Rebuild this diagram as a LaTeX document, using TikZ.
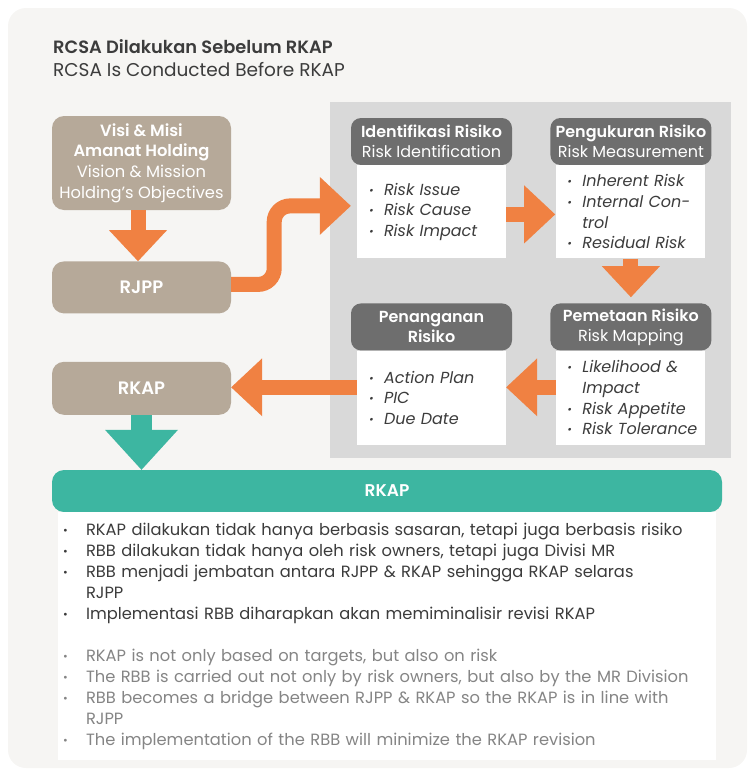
\documentclass[tikz,border=0pt]{standalone}
\usepackage{fontspec}
\usepackage{graphicx}
\setmainfont{Poppins}[BoldFont={Poppins SemiBold}]
\usetikzlibrary{positioning, arrows.meta}
\definecolor{panelbg}{HTML}{F6F5F3}
\definecolor{tanbox}{HTML}{B6A999}
\definecolor{orangearr}{HTML}{F08142}
\definecolor{riskgray}{HTML}{D9D9D9}
\definecolor{hdrgray}{HTML}{6E6E6E}
\definecolor{tealbar}{HTML}{3DB6A1}
\definecolor{titletext}{HTML}{3C3C3C}
\definecolor{engtext}{HTML}{858585}
\newcommand{\dotmark}{\raisebox{1pt}{\scalebox{0.7}{\textbullet}}}
\newcommand{\bul}[1][11pt]{\hspace*{#1}\makebox[15pt][l]{\dotmark}}
\newcommand{\nbul}{\makebox[23pt][l]{\dotmark}}
\tikzset{
	heading/.style={
		anchor=base west,
		inner sep=0pt,
		text=titletext,
		font=\fontsize{18.5}{22}\selectfont,
	},
	plan/.style={
		rectangle,
		fill=tanbox,
		rounded corners=12pt,
		minimum width=179pt,
		minimum height=52pt,
		text=white,
		align=center,
		font=\fontsize{16.3}{20.7}\selectfont,
	},
	hdr/.style={
		rectangle,
		fill=hdrgray,
		rounded corners=10pt,
		minimum width=161pt,
		minimum height=47pt,
		inner sep=0pt,
		text=white,
		align=center,
		font=\fontsize{16}{20}\selectfont,
	},
	items/.style={
		rectangle,
		fill=white,
		minimum width=149pt,
		minimum height=93pt,
		inner sep=0pt,
		text width=149pt,
		align=left,
		text=titletext,
		font=\fontsize{16}{20.7}\selectfont\itshape,
	},
	flow/.style={
		draw=orangearr,
		line width=15pt,
		-{Triangle[width=58pt, length=31pt, line width=0pt]},
	},
	tealflow/.style={
		draw=tealbar,
		line width=21pt,
		-{Triangle[width=73pt, length=40pt, line width=0pt]},
	},
}

\begin{document}
\begin{tikzpicture}[x=1pt, y=-1pt]
	\useasboundingbox (0,0) rectangle (747,771);
	\fill[panelbg, rounded corners=18pt] (8,8) rectangle (747,768);

	% title
	\node[heading, font=\fontsize{17.8}{22}\selectfont\bfseries] (ttl) at (53,53) {RCSA Dilakukan Sebelum RKAP};
	\node[heading] (subttl) at (53,76) {RCSA Is Conducted Before RKAP};

	% left column
	\node[plan, minimum height=94pt] (visi) at (141.5,163) {\textbf{Visi \& Misi}\\\textbf{Amanat Holding}\\Vision \& Mission\\Holding’s Objectives};
	\node[plan, below=51pt of visi, font=\fontsize{18}{20}\selectfont\bfseries] (rjpp) {RJPP};
	\node[plan, below=48pt of rjpp, minimum height=53pt, font=\fontsize{18}{20}\selectfont\bfseries] (rkap) {RKAP};

	% risk process
	\fill[riskgray] (330,102) rectangle (731,458);
	\node[hdr] (hid) at (431.5,141.5) {\textbf{Identifikasi Risiko}\\Risk Identification};
	\node[items, below=0pt of hid] (wid) {\bul[12pt]Risk Issue\\\bul[12pt]Risk Cause\\\bul[12pt]Risk Impact};
	\node[hdr, right=38pt of hid] (hmeas) {\textbf{Pengukuran Risiko}\\Risk Measurement};
	\node[items, below=0pt of hmeas] (wmeas) {\bul Inherent Risk\\\bul Internal Con-\\\hspace*{26pt}trol\\\bul Residual Risk};
	\node[hdr, below=138pt of hmeas] (hmap) {\textbf{Pemetaan Risiko}\\Risk Mapping};
	\node[items, below=0pt of hmap, minimum height=94pt] (wmap) {\bul Likelihood \&\\\hspace*{26pt}Impact\\\bul Risk Appetite\\\bul Risk Tolerance};
	\node[hdr, left=38pt of hmap] (hpen) {\textbf{Penanganan}\\\textbf{Risiko}};
	\node[items, below=0pt of hpen, minimum height=94pt] (wpen) {\bul[12pt]Action Plan\\\bul[12pt]PIC\\\bul[12pt]Due Date};

	% bottom
	\node[fill=tealbar, rounded corners=12pt, minimum width=670pt, minimum height=42pt, text=white, font=\fontsize{17}{20}\selectfont\bfseries] (rkapbar) at (387,491) {RKAP};
	\node[fill=white, below=0pt of rkapbar, minimum width=658pt, minimum height=248pt, inner xsep=5pt, text width=648pt, align=left, text=titletext, font=\fontsize{16.3}{20.8}\selectfont] (notes) {\nbul RKAP dilakukan tidak hanya berbasis sasaran, tetapi juga berbasis risiko\\
		\nbul RBB dilakukan tidak hanya oleh risk owners, tetapi juga Divisi MR\\
		\nbul RBB menjadi jembatan antara RJPP \& RKAP sehingga RKAP selaras\\
		\hspace*{23pt}RJPP\\
		\nbul Implementasi RBB diharapkan akan memiminalisir revisi RKAP\\[22pt]
		\color{engtext}\nbul RKAP is not only based on targets, but also on risk\\
		\nbul The RBB is carried out not only by risk owners, but also by the MR Division\\
		\nbul RBB becomes a bridge between RJPP \& RKAP so the RKAP is in line with\\
		\hspace*{23pt}RJPP\\
		\nbul The implementation of the RBB will minimize the RKAP revision};

	% arrows
	\draw[flow] ([xshift=-3.5pt]visi.south) -- ([xshift=-3.5pt]rjpp.north);
	\draw[flow, rounded corners=16pt] ([yshift=3pt]rjpp.east) -- ++(43,0) |- ([xshift=-6pt, yshift=6pt]wid.west);
	\draw[flow] ([yshift=-2.5pt]wid.east) -- ([yshift=-2.5pt, xshift=-1pt]wmeas.west);
	\draw[flow] (wmeas.south) -- ([yshift=6pt]hmap.north);
	\draw[flow] ([yshift=10.5pt]wmap.west) -- ([yshift=10.5pt]wpen.east);
	\draw[flow] ([yshift=10.5pt]wpen.west) -- ([yshift=1pt]rkap.east);
	\draw[tealflow] (rkap.south) -- (rkap.south |- rkapbar.north);
\end{tikzpicture}
\end{document}
